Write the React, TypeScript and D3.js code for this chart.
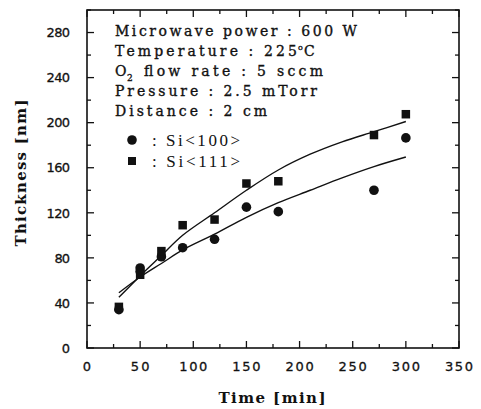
import React, { useEffect, useRef } from "react";
import * as d3 from "d3";

const width = 481;
const height = 409;

// measured points
const timeSi100 = [30, 50, 50, 70, 90, 120, 150, 180, 270, 300];
const thickSi100 = [34, 71, 68, 81, 89, 96.5, 125, 121, 140, 186.5];
const timeSi111 = [30, 50, 70, 90, 120, 150, 180, 270, 300];
const thickSi111 = [36.5, 65, 86, 109, 114, 146, 148, 189, 207.5];

// fitted curves
const fitTime = [30, 50, 70, 90, 120, 150, 180, 210, 240, 270, 300];
const fitSi100 = [49, 63, 75, 87, 101, 116, 129, 140, 151, 161, 169.5];
const fitSi111 = [45, 64, 82, 100, 120, 140, 158, 172, 183, 192, 201];

const xTicks = [0, 50, 100, 150, 200, 250, 300, 350];
const yTicks = [0, 40, 80, 120, 160, 200, 240, 280];

const infoLines = [
  "Microwave power : 600 W",
  "Temperature : 225",
  "flow rate : 5 sccm",
  "Pressure : 2.5 mTorr",
  "Distance : 2 cm",
];
const legendLabels = [": Si<100>", ": Si<111>"];

export default function App() {
  const chartRef = useRef<HTMLDivElement>(null);

  useEffect(() => {
    const root = d3.select(chartRef.current);
    root.selectAll("*").remove();

    const margin = { left: 87, right: 22, top: 10, bottom: 61 };
    const x = d3.scaleLinear().domain([0, 350]).range([margin.left, width - margin.right]);
    const y = d3.scaleLinear().domain([0, 300]).range([height - margin.bottom, margin.top]);

    const svg = root
      .append("svg")
      .attr("width", width)
      .attr("height", height)
      .attr("viewBox", [0, 0, width, height])
      .style("position", "absolute")
      .style("left", 0)
      .style("top", 0)
      .style("background", "#fff");

    const x0 = x(0), x1 = x(350), y0 = y(0), y1 = y(300);

    // frame
    svg
      .append("rect")
      .attr("x", x0)
      .attr("y", y1)
      .attr("width", x1 - x0)
      .attr("height", y0 - y1)
      .attr("fill", "none")
      .attr("stroke", "#111")
      .attr("stroke-width", 1.6);

    // ticks, all pointing inward
    const ticks = svg.append("g").attr("stroke", "#111").attr("stroke-width", 1.3);
    d3.range(0, 351, 25).forEach((t) => {
      const len = t % 50 === 0 ? 7 : 4;
      ticks.append("line").attr("x1", x(t)).attr("x2", x(t)).attr("y1", y0).attr("y2", y0 - len);
      ticks.append("line").attr("x1", x(t)).attr("x2", x(t)).attr("y1", y1).attr("y2", y1 + len);
    });
    d3.range(0, 301, 20).forEach((t) => {
      const len = t % 40 === 0 ? 7 : 4;
      ticks.append("line").attr("x1", x0).attr("x2", x0 + len).attr("y1", y(t)).attr("y2", y(t));
      ticks.append("line").attr("x1", x1).attr("x2", x1 - len).attr("y1", y(t)).attr("y2", y(t));
    });

    const numFont = "'DejaVu Sans', sans-serif";
    const serif = "'DejaVu Serif', serif";

    svg
      .append("g")
      .selectAll("text")
      .data(xTicks)
      .join("text")
      .attr("x", (d) => x(d))
      .attr("y", 371)
      .attr("text-anchor", "middle")
      .attr("font-family", numFont)
      .attr("font-size", 13)
      .attr("fill", "#111")
      .attr("stroke", "#111")
      .attr("stroke-width", 0.3)
      .attr("textLength", (d) => String(d).length * 9.4)
      .attr("lengthAdjust", "spacing")
      .text((d) => d);

    svg
      .append("g")
      .selectAll("text")
      .data(yTicks)
      .join("text")
      .attr("x", 70)
      .attr("y", (d) => y(d) + 4.7)
      .attr("text-anchor", "end")
      .attr("font-family", numFont)
      .attr("font-size", 13)
      .attr("fill", "#111")
      .attr("stroke", "#111")
      .attr("stroke-width", 0.3)
      .attr("textLength", (d) => String(d).length * 7.8)
      .attr("lengthAdjust", "spacing")
      .text((d) => d);

    // axis titles
    svg
      .append("text")
      .attr("transform", `translate(26,173) rotate(-90)`)
      .attr("text-anchor", "middle")
      .attr("font-family", serif)
      .attr("font-weight", "bold")
      .attr("font-size", 15)
      .attr("textLength", 147)
      .attr("lengthAdjust", "spacing")
      .attr("fill", "#111")
      .text("Thickness [nm]");

    svg
      .append("text")
      .attr("x", 272)
      .attr("y", 403)
      .attr("text-anchor", "middle")
      .attr("font-family", serif)
      .attr("font-weight", "bold")
      .attr("font-size", 15)
      .attr("textLength", 107)
      .attr("lengthAdjust", "spacing")
      .attr("fill", "#111")
      .text("Time [min]");

    // condition block
    const info = svg
      .append("g")
      .attr("font-family", serif)
      .attr("font-size", 14)
      .attr("fill", "#111")
      .attr("stroke", "#111")
      .attr("stroke-width", 0.35);
    const lens = [242, 182, 179, 202, 152];
    infoLines.forEach((s, i) => {
      const by = 36 + i * 20;
      if (i === 2) {
        info.append("text").attr("x", 115).attr("y", by).text("O");
        info.append("text").attr("x", 127).attr("y", by + 5).attr("font-size", 9).text("2");
        info
          .append("text")
          .attr("x", 144)
          .attr("y", by)
          .attr("textLength", lens[i])
          .attr("lengthAdjust", "spacing")
          .text(s);
      } else {
        info
          .append("text")
          .attr("x", 115)
          .attr("y", by)
          .attr("textLength", lens[i])
          .attr("lengthAdjust", "spacing")
          .text(s);
      }
      if (i === 1) {
        info.append("text").attr("x", 298).attr("y", by - 6).attr("font-size", 8).text("o");
        info.append("text").attr("x", 304).attr("y", by).text("C");
      }
    });

    // fitted lines
    const fit = d3
      .line<number>()
      .x((_, i) => x(fitTime[i]))
      .y((d) => y(d))
      .curve(d3.curveCatmullRom);
    [fitSi100, fitSi111].forEach((s) => {
      svg
        .append("path")
        .attr("d", fit(s))
        .attr("fill", "none")
        .attr("stroke", "#111")
        .attr("stroke-width", 1.4);
    });

    // markers
    svg
      .append("g")
      .selectAll("circle")
      .data(thickSi100)
      .join("circle")
      .attr("cx", (_, i) => x(timeSi100[i]))
      .attr("cy", (d) => y(d))
      .attr("r", 4.8)
      .attr("fill", "#111");

    const sq = 8.5;
    svg
      .append("g")
      .selectAll("rect")
      .data(thickSi111)
      .join("rect")
      .attr("x", (_, i) => x(timeSi111[i]) - sq / 2)
      .attr("y", (d) => y(d) - sq / 2)
      .attr("width", sq)
      .attr("height", sq)
      .attr("fill", "#111");

    // legend
    svg.append("circle").attr("cx", 132).attr("cy", 140).attr("r", 4.8).attr("fill", "#111");
    svg
      .append("rect")
      .attr("x", 132 - 4)
      .attr("y", 161 - 4)
      .attr("width", 8)
      .attr("height", 8)
      .attr("fill", "#111");
    legendLabels.forEach((s, i) => {
      svg
        .append("text")
        .attr("x", 152)
        .attr("y", 145.5 + i * 21)
        .attr("font-family", "'Liberation Serif', serif")
        .attr("font-size", 17)
        .attr("textLength", 88)
        .attr("lengthAdjust", "spacing")
        .attr("fill", "#111")
        .text(s);
    });
  }, []);

  return <div ref={chartRef}></div>;
}
